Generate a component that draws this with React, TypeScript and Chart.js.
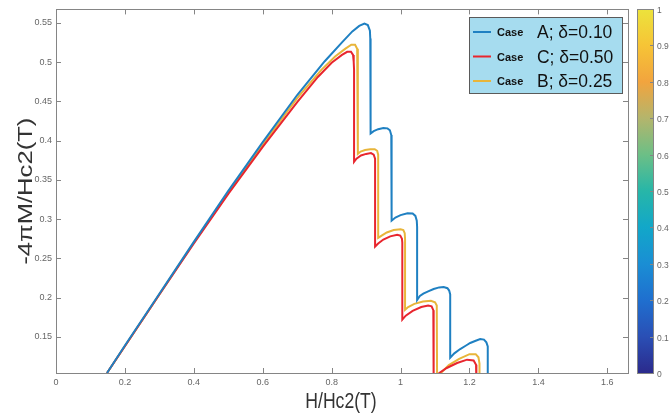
import React, { useEffect, useRef } from "react";
import { Chart, registerables } from "chart.js";

Chart.register(...registerables);

// Axis ticks
const xTicks = [0, 0.2, 0.4, 0.6, 0.8, 1, 1.2, 1.4, 1.6];
const yTicks = [0.15, 0.2, 0.25, 0.3, 0.35, 0.4, 0.45, 0.5, 0.55];
const colorbarTicks = [0, 0.1, 0.2, 0.3, 0.4, 0.5, 0.6, 0.7, 0.8, 0.9, 1];
const colorbarStops = [
  "#2b2a8c", "#2a4fb5", "#1f6fcf", "#1a8ed4", "#12a7c9", "#27b6a8",
  "#6cbf86", "#b4b56c", "#f2a43e", "#f6c436", "#ece33c",
];

// Series labels and colours (legend order)
const caseNames = ["A", "C", "B"];
const deltaValues = ["0.10", "0.50", "0.25"];
const caseColors = ["#1f80c2", "#e8262e", "#e8b53a"];

// Case A, δ = 0.10
const caseA_H = [
  0.148, 0.2, 0.3, 0.4, 0.5, 0.6, 0.7, 0.78, 0.83, 0.86, 0.88, 0.895, 0.905, 0.911, 0.912,
  0.913, 0.922, 0.935, 0.95, 0.962, 0.969, 0.973, 0.974,
  0.974, 0.985, 1.0, 1.02, 1.035, 1.043, 1.047, 1.048,
  1.048, 1.056, 1.066, 1.08, 1.096, 1.112, 1.125, 1.136, 1.141, 1.144,
  1.144, 1.156, 1.173, 1.19, 1.202, 1.218, 1.231, 1.242, 1.249, 1.253, 1.253,
];
const caseA_M = [
  0.104, 0.139, 0.205, 0.271, 0.336, 0.398, 0.458, 0.501, 0.525, 0.539, 0.546, 0.549, 0.547, 0.54, 0.53,
  0.409, 0.412, 0.4145, 0.416, 0.4155, 0.413, 0.407, 0.4,
  0.298, 0.302, 0.305, 0.3075, 0.307, 0.304, 0.298, 0.29,
  0.197, 0.202, 0.205, 0.208, 0.211, 0.213, 0.2134, 0.212, 0.209, 0.204,
  0.1235, 0.129, 0.1345, 0.139, 0.1422, 0.145, 0.1473, 0.1465, 0.143, 0.138, 0.09,
];

// Case C, δ = 0.50
const caseC_H = [
  0.148, 0.3, 0.4, 0.5, 0.6, 0.7, 0.76, 0.8, 0.83, 0.845, 0.856, 0.862, 0.864, 0.865,
  0.865, 0.872, 0.885, 0.9, 0.914, 0.922, 0.926, 0.926,
  0.926, 0.935, 0.95, 0.97, 0.99, 0.999, 1.004, 1.005,
  1.005, 1.015, 1.035, 1.06, 1.08, 1.09, 1.095, 1.096,
  1.106, 1.112, 1.134, 1.164, 1.193, 1.212, 1.219, 1.22,
];
const caseC_M = [
  0.104, 0.204, 0.269, 0.332, 0.392, 0.449, 0.481, 0.499, 0.509, 0.513, 0.513, 0.509, 0.5, 0.49,
  0.373, 0.377, 0.381, 0.383, 0.384, 0.382, 0.377, 0.37,
  0.265, 0.269, 0.274, 0.278, 0.28, 0.279, 0.275, 0.27,
  0.172, 0.177, 0.183, 0.188, 0.19, 0.189, 0.184, 0.09,
  0.09, 0.104, 0.1104, 0.1167, 0.121, 0.12, 0.1146, 0.09,
];

// Case B, δ = 0.25
const caseB_H = [
  0.148, 0.3, 0.4, 0.5, 0.6, 0.7, 0.77, 0.81, 0.84, 0.857, 0.868, 0.874, 0.876, 0.876,
  0.876, 0.884, 0.897, 0.912, 0.925, 0.932, 0.935, 0.935,
  0.935, 0.945, 0.96, 0.98, 1.0, 1.008, 1.012, 1.013,
  1.013, 1.022, 1.04, 1.065, 1.088, 1.1, 1.105, 1.106,
  1.113, 1.117, 1.14, 1.17, 1.2, 1.218, 1.226, 1.229, 1.229,
];
const caseB_M = [
  0.104, 0.204, 0.27, 0.334, 0.395, 0.454, 0.49, 0.507, 0.517, 0.522, 0.522, 0.517, 0.51, 0.5,
  0.383, 0.386, 0.388, 0.389, 0.389, 0.387, 0.382, 0.375,
  0.276, 0.279, 0.283, 0.286, 0.287, 0.286, 0.282, 0.275,
  0.1846, 0.188, 0.192, 0.195, 0.196, 0.194, 0.19, 0.09,
  0.09, 0.104, 0.114, 0.122, 0.128, 0.128, 0.124, 0.116, 0.09,
];

const seriesH = [caseA_H, caseC_H, caseB_H];
const seriesM = [caseA_M, caseC_M, caseB_M];

const xTitle = "H/Hc2(T)";
const yTitle = "-4πM/Hc2(T)";

const AXIS_GRAY = "#858585";
const TICK_TEXT = "#666666";
const FONT = "'Liberation Sans', Arial, sans-serif";

function pairs(hs: number[], ms: number[]) {
  return hs.map((h, i) => ({ x: h, y: ms[i] }));
}

const decorPlugin = {
  id: "decor",
  afterDraw(chart: any) {
    const ctx: CanvasRenderingContext2D = chart.ctx;
    const { left, right, top, bottom } = chart.chartArea;
    const xs = chart.scales.x;
    const ys = chart.scales.y;
    ctx.save();

    // Frame with inward ticks on all sides
    ctx.strokeStyle = AXIS_GRAY;
    ctx.lineWidth = 1;
    ctx.strokeRect(Math.round(left) + 0.5, Math.round(top) + 0.5, Math.round(right - left), Math.round(bottom - top));
    ctx.beginPath();
    for (const v of xTicks) {
      const px = Math.round(xs.getPixelForValue(v)) + 0.5;
      ctx.moveTo(px, bottom);
      ctx.lineTo(px, bottom - 5);
      ctx.moveTo(px, top);
      ctx.lineTo(px, top + 5);
    }
    for (const v of yTicks) {
      const py = Math.round(ys.getPixelForValue(v)) + 0.5;
      ctx.moveTo(left, py);
      ctx.lineTo(left + 5, py);
      ctx.moveTo(right, py);
      ctx.lineTo(right - 5, py);
    }
    ctx.stroke();

    // Axis titles
    ctx.fillStyle = "#333333";
    ctx.textAlign = "center";
    ctx.textBaseline = "middle";
    ctx.font = `22px ${FONT}`;
    ctx.save();
    ctx.translate((left + right) / 2 - 1, 402);
    ctx.scale(0.8, 1);
    ctx.fillText(xTitle, 0, 0);
    ctx.restore();
    ctx.font = `21px ${FONT}`;
    ctx.save();
    ctx.translate(26, (top + bottom) / 2);
    ctx.rotate(-Math.PI / 2);
    ctx.scale(1.22, 1);
    ctx.fillText(yTitle, 0, 0);
    ctx.restore();

    // Legend
    const lx = 469.5, ly = 17.5, lw = 153, lh = 76;
    ctx.fillStyle = "#a6dcef";
    ctx.fillRect(lx, ly, lw, lh);
    ctx.strokeStyle = "#5a5a5a";
    ctx.strokeRect(lx, ly, lw, lh);
    chart.data.datasets.forEach((ds: any, i: number) => {
      const rowY = 32 + i * 24.5;
      ctx.strokeStyle = ds.borderColor;
      ctx.lineWidth = 2;
      ctx.beginPath();
      ctx.moveTo(473, rowY);
      ctx.lineTo(491, rowY);
      ctx.stroke();
      const [first, ...rest] = String(ds.label).split(" ");
      ctx.fillStyle = "#111111";
      ctx.textAlign = "left";
      ctx.textBaseline = "middle";
      ctx.font = `bold 11px ${FONT}`;
      ctx.fillText(first, 497, rowY + 1);
      ctx.font = `19px ${FONT}`;
      ctx.save();
      ctx.translate(537, rowY + 1);
      ctx.scale(0.92, 1);
      ctx.fillText(rest.join(" "), 0, 0);
      ctx.restore();
    });

    // Colour bar
    const cx = 637, cw = 16, cTop = 9, cBottom = 373;
    const grad = ctx.createLinearGradient(0, cBottom, 0, cTop);
    colorbarStops.forEach((c, i) => grad.addColorStop(i / (colorbarStops.length - 1), c));
    ctx.fillStyle = grad;
    ctx.fillRect(cx, cTop, cw, cBottom - cTop);
    ctx.strokeStyle = AXIS_GRAY;
    ctx.lineWidth = 1;
    ctx.strokeRect(cx + 0.5, cTop + 0.5, cw, cBottom - cTop);
    ctx.font = `8.5px ${FONT}`;
    ctx.fillStyle = TICK_TEXT;
    ctx.textAlign = "left";
    ctx.textBaseline = "middle";
    ctx.beginPath();
    colorbarTicks.forEach((t) => {
      const py = Math.round(cBottom - t * (cBottom - cTop)) + 0.5;
      ctx.moveTo(cx + cw, py);
      ctx.lineTo(cx + cw - 3, py);
      ctx.fillText(String(t), cx + cw + 4, py + 1);
    });
    ctx.stroke();

    ctx.restore();
  },
};

export default function App() {
  const canvasRef = useRef<HTMLCanvasElement | null>(null);

  useEffect(() => {
    const canvas = canvasRef.current;
    if (!canvas) return;
    const chart = new Chart(canvas, {
      type: "line",
      data: {
        datasets: seriesH.map((hs, i) => ({
          label: `Case ${caseNames[i]}; δ=${deltaValues[i]}`,
          data: pairs(hs, seriesM[i]),
          borderColor: caseColors[i],
          backgroundColor: caseColors[i],
          borderWidth: 2,
          pointRadius: 0,
          tension: 0,
          fill: false,
          clip: 0,
        })),
      },
      options: {
        animation: false,
        responsive: false,
        events: [],
        layout: { padding: { left: 0, right: 44, top: 9, bottom: 0 } },
        plugins: { legend: { display: false }, tooltip: { enabled: false }, title: { display: false } },
        scales: {
          x: {
            type: "linear",
            min: 0,
            max: 1.66,
            grid: { display: false, drawTicks: false, tickLength: 0 },
            border: { display: false },
            afterBuildTicks: (s: any) => {
              s.ticks = xTicks.map((v) => ({ value: v }));
            },
            afterFit: (s: any) => {
              s.height = 44;
            },
            ticks: {
              padding: 4,
              maxRotation: 0,
              autoSkip: false,
              color: TICK_TEXT,
              font: { family: FONT, size: 9 },
              callback: (v: any) => String(Number(Number(v).toFixed(2))),
            },
          },
          y: {
            type: "linear",
            min: 0.104,
            max: 0.567,
            grid: { display: false, drawTicks: false, tickLength: 0 },
            border: { display: false },
            afterBuildTicks: (s: any) => {
              s.ticks = yTicks.map((v) => ({ value: v }));
            },
            afterFit: (s: any) => {
              s.width = 56;
            },
            ticks: {
              padding: 4,
              autoSkip: false,
              color: TICK_TEXT,
              font: { family: FONT, size: 9 },
              callback: (v: any) => String(Number(Number(v).toFixed(2))),
            },
          },
        },
      },
      plugins: [decorPlugin],
    });
    return () => chart.destroy();
  }, []);

  return (
    <div style={{ position: "fixed", left: 0, top: 0, width: 672, height: 417, background: "#ffffff" }}>
      <canvas ref={canvasRef} width={672} height={417} style={{ display: "block" }} />
    </div>
  );
}
